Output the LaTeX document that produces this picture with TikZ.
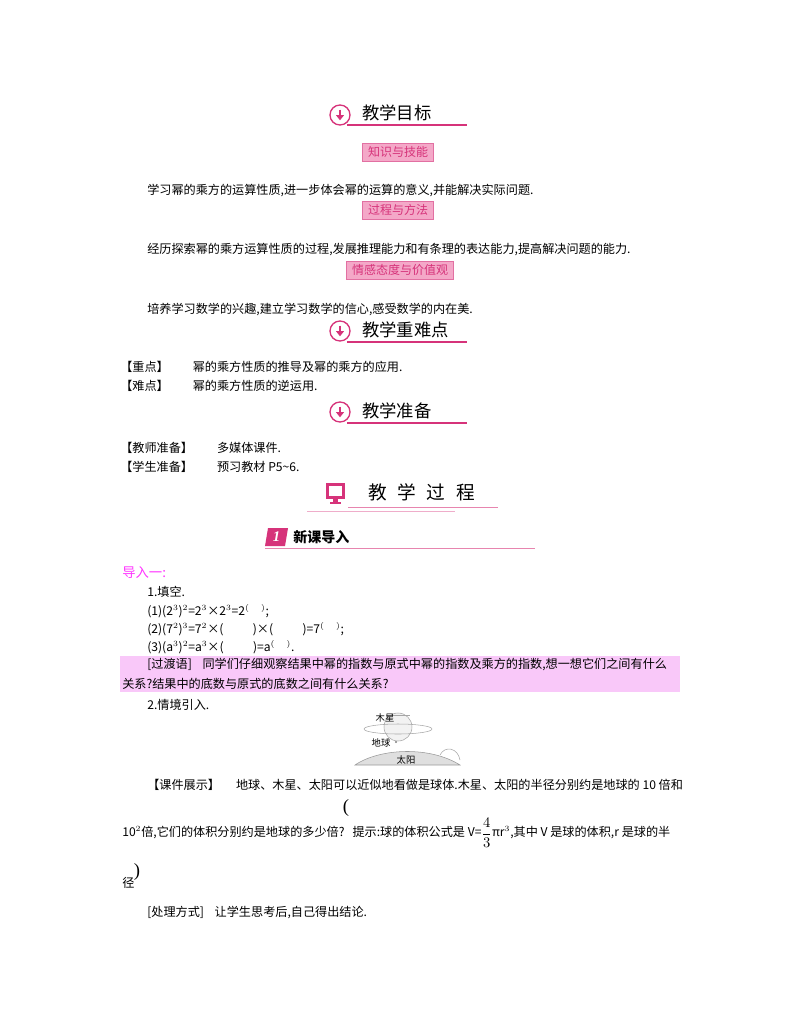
\documentclass[tikz,border=0pt]{standalone}
\usepackage{amsmath}
\usepackage{fontspec}
\usetikzlibrary{arrows.meta}
\setmainfont{Liberation Serif}
\newfontfamily\cjk{Noto Sans CJK SC}
\definecolor{pk}{HTML}{D6337A}
\definecolor{pkbox}{HTML}{F4A8C8}
\definecolor{hl}{HTML}{F9C8F9}
\definecolor{mg}{HTML}{FF33FF}
\begin{document}
\begin{tikzpicture}[x=0.75pt,y=-0.75pt,
  body/.style={anchor=west,inner sep=0pt,font=\cjk\fontsize{9.1}{10}\selectfont},
  hdr/.style={anchor=west,inner sep=0pt,font=\cjk\fontsize{13}{14}\selectfont},
  tag/.style={draw=pk!70,fill=pkbox,inner xsep=4pt,inner ysep=1.5pt,font=\cjk\fontsize{9}{10}\selectfont,text=pk,minimum height=13.5pt},
  arr/.style={pk,-{Triangle[length=4pt,width=6pt]},line width=2pt},
  uline/.style={pk,line width=0.8pt}]
\useasboundingbox (0,0) rectangle (800,1028);
% header 1
\node[circle,draw=pk,line width=1pt,minimum size=15pt] (i1) at (340,115) {};
\draw[arr] ([yshift=4pt]i1.center) -- ([yshift=-4pt]i1.center);
\node[hdr] (h1) at (362,113) {教学目标};
\draw[uline] (347,125) -- (467,125);
\node[tag] (t1) at (398,152) {知识与技能};
\node[body] (b1) at (147,190) {学习幂的乘方的运算性质,进一步体会幂的运算的意义,并能解决实际问题.};
\node[tag] (t2) at (398,210) {过程与方法};
\node[body] (b2) at (147,250) {经历探索幂的乘方运算性质的过程,发展推理能力和有条理的表达能力,提高解决问题的能力.};
\node[tag] (t3) at (400,270) {情感态度与价值观};
\node[body] (b3) at (147,309) {培养学习数学的兴趣,建立学习数学的信心,感受数学的内在美.};
% header 2
\node[circle,draw=pk,line width=1pt,minimum size=15pt] (i2) at (340,331) {};
\draw[arr] ([yshift=4pt]i2.center) -- ([yshift=-4pt]i2.center);
\node[hdr] (h2) at (362,330) {教学重难点};
\draw[uline] (347,342) -- (467,342);
\node[body] (z1) at (120,367) {【重点】\hspace{18pt}幂的乘方性质的推导及幂的乘方的应用.};
\node[body] (z2) at (120,386) {【难点】\hspace{18pt}幂的乘方性质的逆运用.};
% header 3
\node[circle,draw=pk,line width=1pt,minimum size=15pt] (i3) at (340,412) {};
\draw[arr] ([yshift=4pt]i3.center) -- ([yshift=-4pt]i3.center);
\node[hdr] (h3) at (362,411) {教学准备};
\draw[uline] (347,423) -- (467,423);
\node[body] (p1) at (120,448) {【教师准备】\hspace{18pt}多媒体课件.};
\node[body] (p2) at (120,467) {【学生准备】\hspace{18pt}预习教材 P5\textasciitilde6.};
% process
\fill[pk] (326,483) rectangle (345,499);
\fill[white] (329,486) rectangle (342,496);
\fill[pk] (333,499) rectangle (338,502);
\fill[pk] (330,502) rectangle (341,504);
\node[hdr,font=\cjk\fontsize{14}{14}\selectfont] (h4) at (368,492) {教\hspace{8pt}学\hspace{8pt}过\hspace{8pt}程};
\draw[pk!60,line width=0.6pt] (348,507) -- (498,507);
\draw[pk!40,line width=0.6pt] (307,511) -- (455,511);
\fill[pk] (268,528) -- (288,528) -- (285,546) -- (265,546) -- cycle;
\node[white,font=\bfseries\itshape\fontsize{11}{11}\selectfont] at (276.5,537) {1};
\node[hdr,font=\cjk\bfseries\fontsize{10.5}{11}\selectfont] (h5) at (293,537) {新课导入};
\draw[pk!60,line width=0.6pt] (265,548) -- (535,548);
\node[body,text=mg,font=\cjk\fontsize{10}{11}\selectfont] (d1) at (122,573) {导入一:};
\node[body] (f0) at (147,592) {1.填空.};
\node[body] (f1) at (147,611) {(1)(2$^{3}$)$^{2}$=2$^{3}$×2$^{3}$=2$^{(\quad)}$;};
\node[body] (f2) at (147,629) {(2)(7$^{2}$)$^{3}$=7$^{2}$×(\hspace{22pt})×(\hspace{22pt})=7$^{(\quad)}$;};
\node[body] (f3) at (147,647) {(3)(\textit{a}$^{3}$)$^{2}$=\textit{a}$^{3}$×(\hspace{22pt})=\textit{a}$^{(\quad)}$.};
\fill[hl] (120,656) rectangle (680,692);
\node[body] (g1) at (147,664) {[过渡语]\hspace{6pt} 同学们仔细观察结果中幂的指数与原式中幂的指数及乘方的指数,想一想它们之间有什么};
\node[body] (g2) at (122,684) {关系?结果中的底数与原式的底数之间有什么关系?};
\node[body] (f4) at (147,705) {2.情境引入.};
% picture
\draw[gray!70,fill=gray!10] (398,727) ellipse (14 and 14);
\draw[gray!70] (398,729) ellipse (34 and 5);
\draw[gray!70] (386,715) -- (410,715);
\draw[gray!80,fill=gray!25] (355,765) .. controls (380,748) and (430,746) .. (460,765) -- cycle;
\draw[gray!70] (440,755) .. controls (445,745) and (458,748) .. (460,760);
\fill[gray] (396,742) circle (1.2);
\node[font=\cjk\fontsize{7}{7}\selectfont] (mu) at (385,718) {木星};
\node[font=\cjk\fontsize{7}{7}\selectfont] (di) at (381,743) {地球};
\node[font=\cjk\fontsize{7}{7}\selectfont] (ty) at (406,760) {太阳};
\node[body] (k1) at (147,785) {【课件展示】\hspace{12pt}地球、木星、太阳可以近似地看做是球体.木星、太阳的半径分别约是地球的 10 倍和};
\node[font=\fontsize{14}{14}\selectfont] (lp) at (346,808) {(};
\node[body] (k2) at (122,833) {10$^{2}$倍,它们的体积分别约是地球的多少倍?\hspace{6pt}提示:球的体积公式是 \textit{V}=\raisebox{-1pt}{\fontsize{11}{11}\selectfont$\dfrac{4}{3}$}π\textit{r}$^{3}$,其中 \textit{V} 是球的体积,\textit{r} 是球的半};
\node[font=\fontsize{14}{14}\selectfont] (rp) at (137,872) {)};
\node[body] (k3) at (122,883) {径};
\node[body] (k4) at (147,912) {[处理方式]\hspace{6pt} 让学生思考后,自己得出结论.};
\end{tikzpicture}
\end{document}
